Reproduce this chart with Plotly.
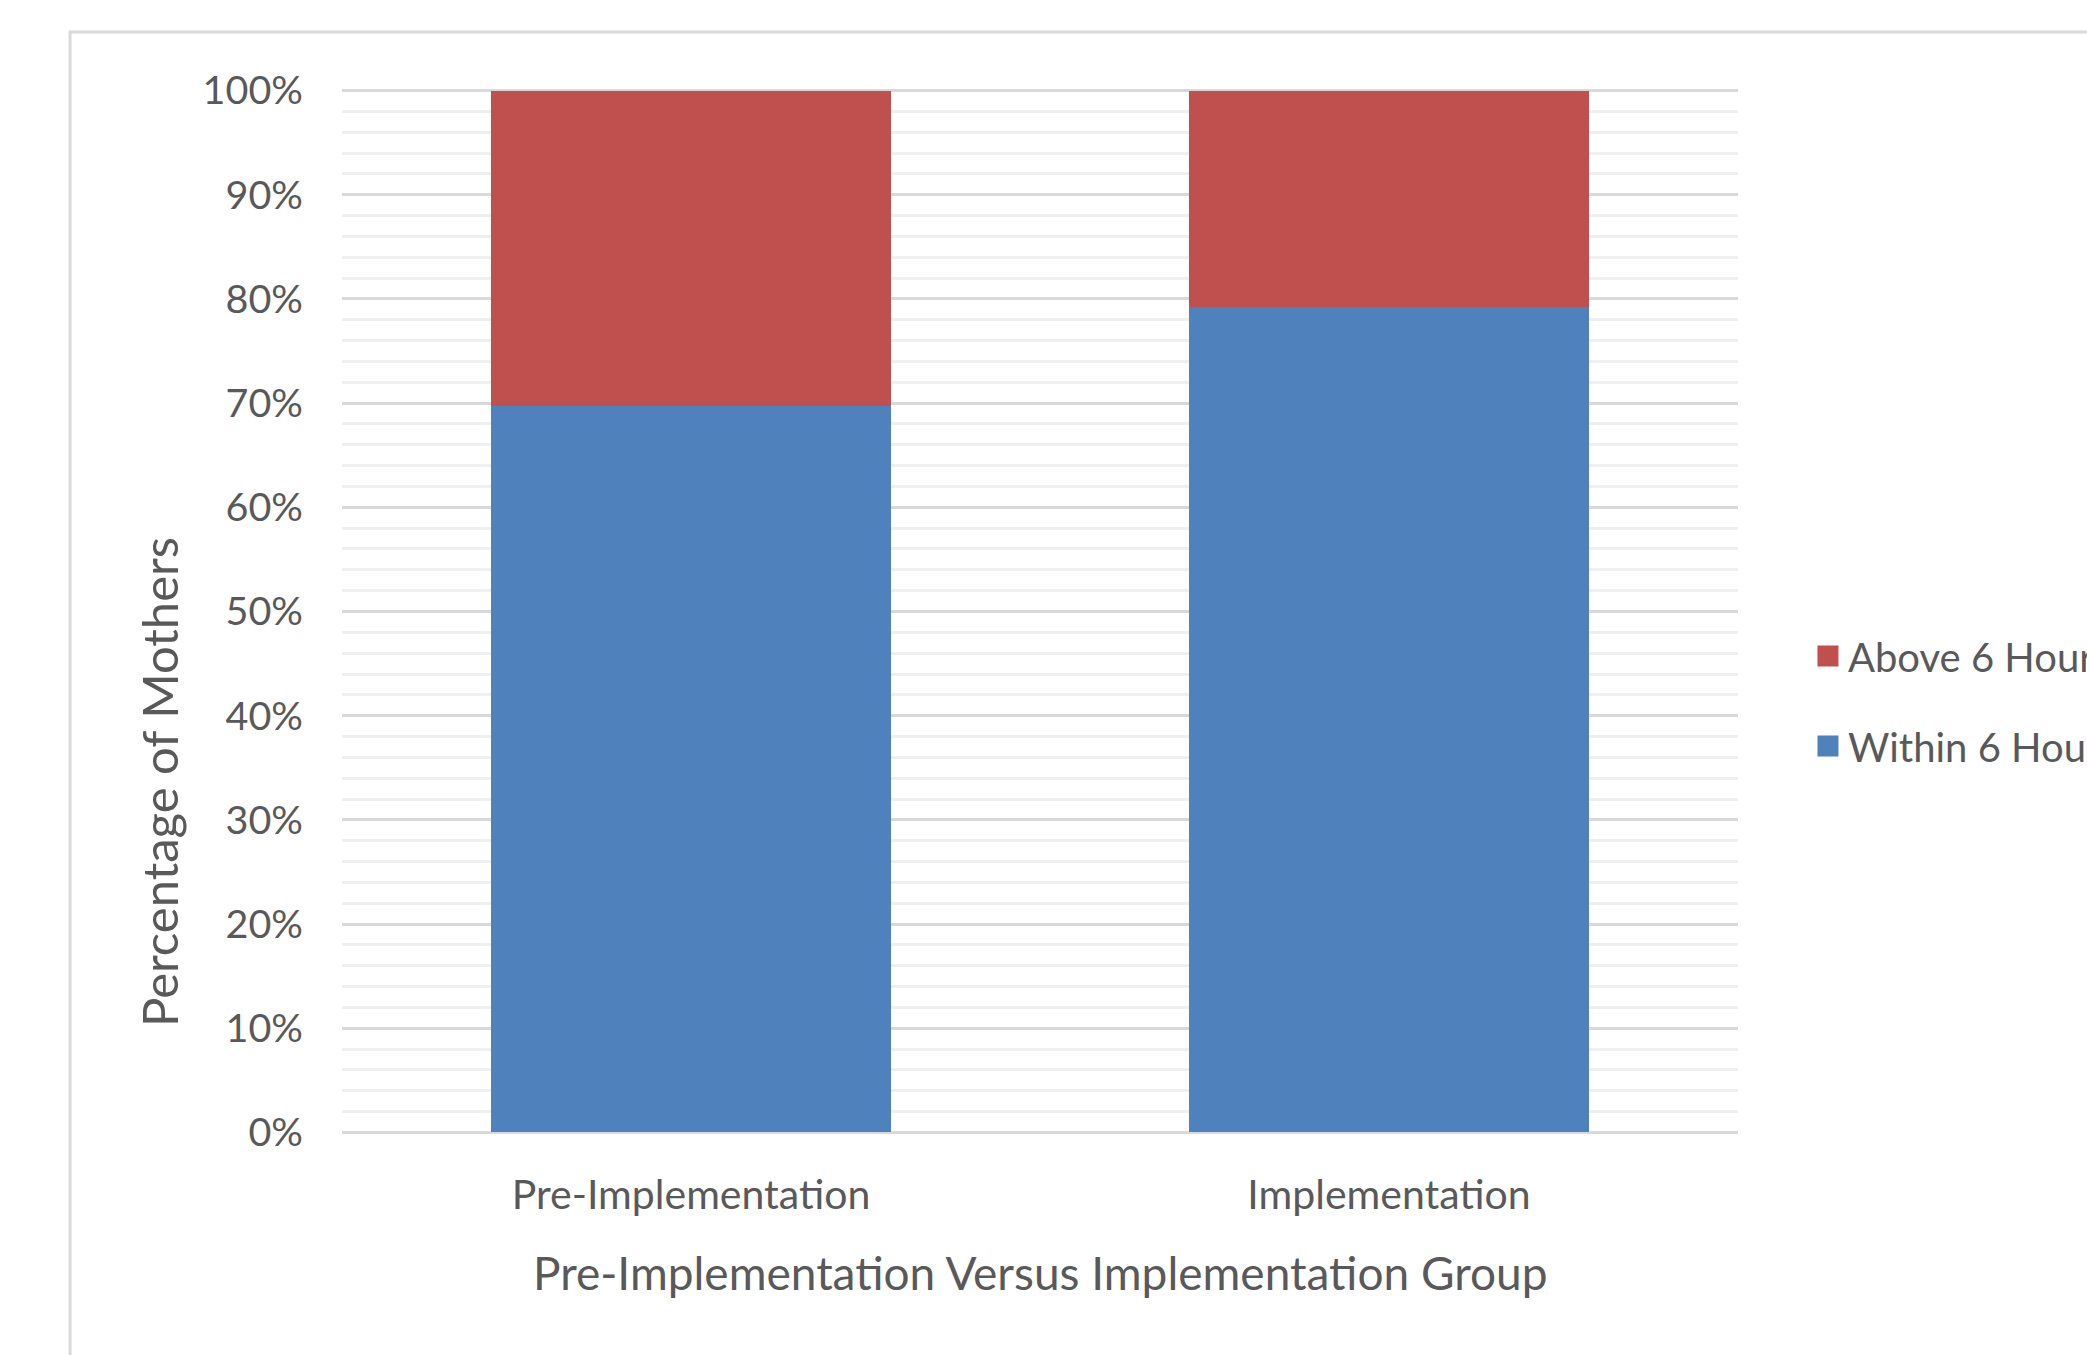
import plotly.graph_objects as go

# ---- data ----
groups = ["Pre-Implementation", "Implementation"]
within_6h = [0.697, 0.792]
above_6h = [0.303, 0.208]
series_names = ["Within 6 Hours", "Above 6 Hours"]
y_ticks = [0, 0.1, 0.2, 0.3, 0.4, 0.5, 0.6, 0.7, 0.8, 0.9, 1.0]

BLUE = "#4f81bd"
RED = "#c0504d"
TXT = "#595959"
FONT = "Lato"

fig = go.Figure()
fig.add_trace(go.Bar(x=groups, y=within_6h, name=series_names[0], marker=dict(color=BLUE, line=dict(width=0)),
                     showlegend=False))
fig.add_trace(go.Bar(x=groups, y=above_6h, name=series_names[1], marker=dict(color=RED, line=dict(width=0)),
                     showlegend=False))

# legend entries (square symbols)
fig.add_trace(go.Scatter(x=[None], y=[None], mode="markers", name=series_names[1],
                         marker=dict(symbol="square", size=24, color=RED, line=dict(color=RED, width=5)),
                         legend="legend"))
fig.add_trace(go.Scatter(x=[None], y=[None], mode="markers", name=series_names[0],
                         marker=dict(symbol="square", size=24, color=BLUE, line=dict(color=BLUE, width=5)),
                         legend="legend2"))

fig.update_layout(
    width=2087, height=1355,
    margin=dict(l=342, r=349, t=89, b=221, autoexpand=False),
    paper_bgcolor="white", plot_bgcolor="white",
    barmode="stack", bargap=0.428,
    font=dict(family=FONT, color=TXT, size=40),
    legend=dict(xref="container", yref="container", x=0.8663, y=0.5159, xanchor="left", yanchor="middle",
                itemsizing="trace",
                font=dict(size=40, color=TXT, family=FONT), bgcolor="rgba(0,0,0,0)"),
    legend2=dict(xref="container", yref="container", x=0.8663, y=0.4494, xanchor="left", yanchor="middle",
                 itemsizing="trace",
                 font=dict(size=40, color=TXT, family=FONT), bgcolor="rgba(0,0,0,0)"),
    xaxis=dict(showgrid=False, zeroline=False, showline=False, ticks="",
               tickfont=dict(size=41, color=TXT), ticklabelstandoff=33),
    yaxis=dict(range=[-0.0015, 1.0015], tickvals=y_ticks, tickformat=".0%", showgrid=True,
               gridcolor="#d9d9d9", gridwidth=3, zeroline=False, showline=False, ticks="",
               tickfont=dict(size=39.5, color=TXT), ticklabelstandoff=38,
               minor=dict(tickvals=[v / 100 for v in range(2, 100, 2) if v % 10], showgrid=True,
                          gridcolor="#efefef", gridwidth=3)),
    shapes=[dict(type="rect", xref="paper", yref="paper", x0=-0.1948, x1=1.6, y0=-0.6, y1=1.0545,
                 line=dict(color="#d9d9d9", width=3), fillcolor="rgba(0,0,0,0)", layer="below")],
    annotations=[
        dict(text="Pre-Implementation Versus Implementation Group", xref="paper", yref="paper",
             x=0.5, y=-0.1325, xanchor="center", yanchor="middle", showarrow=False,
             font=dict(size=46, color=TXT, family=FONT)),
        dict(text="Percentage of Mothers", xref="paper", yref="paper", textangle=-90,
             x=-0.131, y=0.337, xanchor="center", yanchor="middle", showarrow=False,
             font=dict(size=49, color=TXT, family=FONT)),
    ],
)

fig.write_html("out.html")
